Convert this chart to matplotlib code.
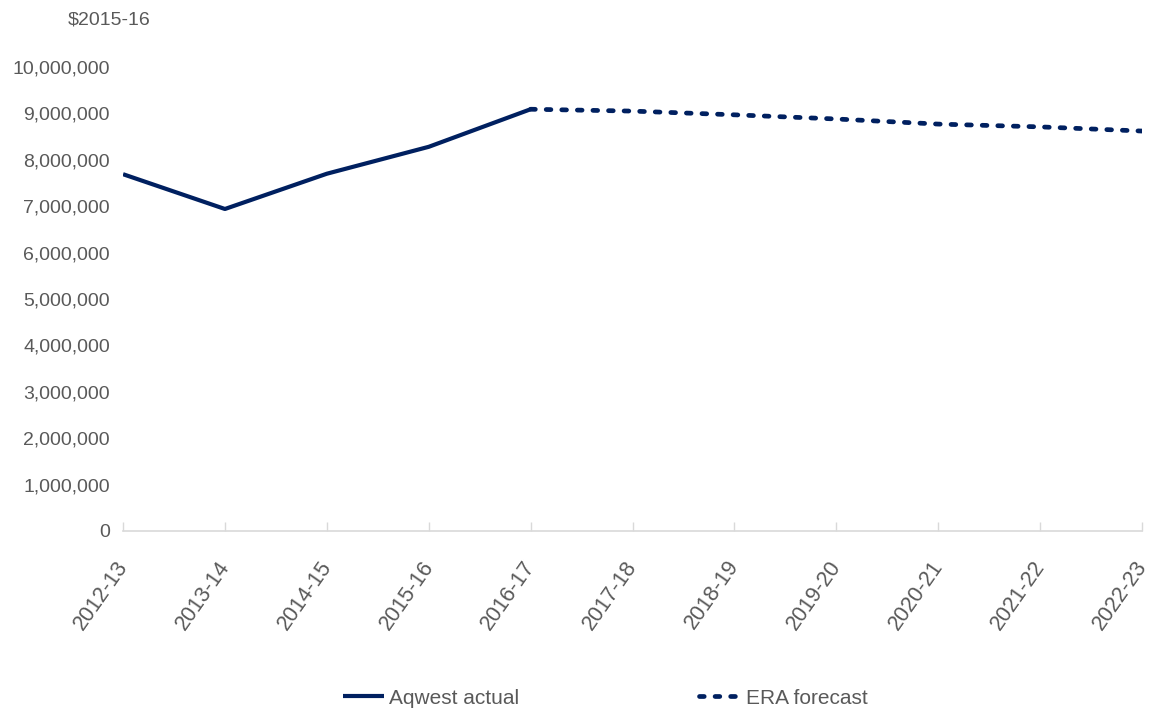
import numpy as np
import matplotlib

matplotlib.use("Agg")
import matplotlib.pyplot as plt
from matplotlib.ticker import FuncFormatter
from matplotlib.transforms import ScaledTranslation

plt.rcParams["font.family"] = ["Liberation Sans", "DejaVu Sans"]

YEARS = ["2012-13", "2013-14", "2014-15", "2015-16", "2016-17", "2017-18",
         "2018-19", "2019-20", "2020-21", "2021-22", "2022-23"]
ACTUAL = [7690000, 6940000, 7700000, 8280000, 9090000,
          np.nan, np.nan, np.nan, np.nan, np.nan, np.nan]
FORECAST = [np.nan, np.nan, np.nan, np.nan, 9090000, 9050000,
            8970000, 8880000, 8770000, 8710000, 8620000]

NAVY = "#002060"
TEXT = "#595959"
AXIS = "#d9d9d9"

fig = plt.figure(figsize=(11.5, 7.13), dpi=100)
ax = fig.add_axes([0.107, 0.2553, 0.886, 0.6507])

x = np.arange(len(YEARS))
ax.plot(x, ACTUAL, color=NAVY, linewidth=3.0, solid_capstyle="butt",
        solid_joinstyle="round", label="Aqwest actual")
ax.plot(x, FORECAST, color=NAVY, linewidth=3.4, dashes=(1.0, 2.3),
        dash_capstyle="round", label="ERA forecast")

ax.set_xlim(0, len(YEARS) - 1)
ax.set_ylim(0, 10000000)
ax.set_yticks(np.arange(0, 10000001, 1000000))
ax.yaxis.set_major_formatter(FuncFormatter(lambda v, _: f"{v:,.0f}"))
ax.set_xticks(x)
ax.set_xticklabels(YEARS, rotation=55, ha="right", va="top", rotation_mode="anchor")

for side in ("left", "right", "top"):
    ax.spines[side].set_visible(False)
ax.spines["bottom"].set_color(AXIS)
ax.spines["bottom"].set_linewidth(1.2)
ax.tick_params(axis="y", length=0, pad=9.5, labelsize=14, labelcolor=TEXT)
ax.tick_params(axis="x", direction="in", length=6.5, width=1, color=AXIS,
               pad=18.5, labelsize=15.5, labelcolor=TEXT)

# nudge the slanted year labels left of their ticks so the last one stays inside
shift = ScaledTranslation(-0.08, 0, fig.dpi_scale_trans)
for label in ax.get_xticklabels():
    label.set_transform(label.get_transform() + shift)

fig.text(68 / 1150, 1 - 20 / 713, "$2015-16", ha="left", va="center",
         fontsize=14, color=TEXT)

fig.legend(loc="center", bbox_to_anchor=(0.526, 0.021), ncol=2, frameon=False,
           fontsize=15, labelcolor=TEXT, handlelength=2.0, handletextpad=0.25,
           columnspacing=8.6, borderpad=0)

fig.savefig("out.png", dpi=100)
